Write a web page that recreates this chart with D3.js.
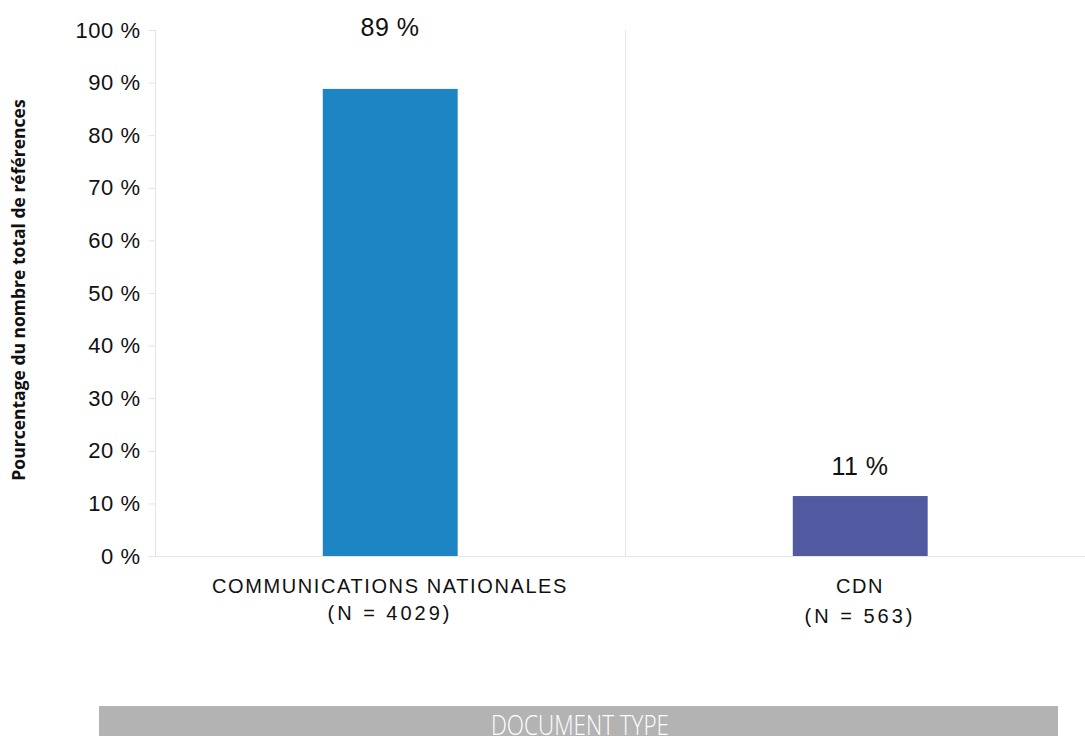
<!DOCTYPE html>
<html>
<head>
<meta charset="utf-8">
<script src="https://cdn.jsdelivr.net/npm/d3@7"></script>
<style>
  body { margin: 0; background: #fff; }
  svg { display: block; }
</style>
</head>
<body>
<div id="chart"></div>
<script>
// chart values
var categories = ["COMMUNICATIONS NATIONALES", "CDN"];
var counts = ["(N = 4029)", "(N = 563)"];
var values = [88.8, 11.4];
var labels = ["89 %", "11 %"];
var colors = ["#1e85c5", "#5159a1"];
var yTicks = [0, 10, 20, 30, 40, 50, 60, 70, 80, 90, 100];

var width = 1085, height = 736;
var margin = {top: 30, left: 155, bottom: 180};

var svg = d3.select("#chart").append("svg")
	.attr("width", width)
	.attr("height", height)
	.style("font-family", "'Liberation Sans', Arial, sans-serif");

var x = d3.scaleBand()
	.domain(categories)
	.range([margin.left, 1095]);

var y = d3.scaleLinear()
	.domain([0, 100])
	.range([556, margin.top]);

// vertical separators between categories
svg.append("g").selectAll("line")
	.data(categories)
	.enter().append("line")
	.attr("x1", function(d) { return x(d) + 0.5; })
	.attr("x2", function(d) { return x(d) + 0.5; })
	.attr("y1", y(100))
	.attr("y2", y(0))
	.style("stroke", "#e4e4e4");

// y axis
var yAxis = svg.append("g")
	.attr("transform", "translate(" + (margin.left + 0.5) + ",0)")
	.call(d3.axisLeft(y).tickValues(yTicks).tickSize(7).tickPadding(8)
		.tickFormat(function(d) { return d + " %"; }));
yAxis.select(".domain").remove();
yAxis.selectAll(".tick line").style("stroke", "#e4e4e4");
yAxis.selectAll(".tick text")
	.style("font-size", "22px")
	.style("letter-spacing", "0.5px")
	.style("fill", "#111");

// bars
svg.append("g").selectAll("rect")
	.data(values)
	.enter().append("rect")
	.attr("x", function(d, i) { return x(categories[i]) + x.bandwidth() * 0.357; })
	.attr("width", x.bandwidth() * 0.287)
	.attr("y", function(d) { return y(d); })
	.attr("height", function(d) { return y(0) - y(d); })
	.style("fill", function(d, i) { return colors[i]; });

// baseline
svg.append("line")
	.attr("x1", margin.left - 7)
	.attr("x2", width)
	.attr("y1", y(0) + 0.5)
	.attr("y2", y(0) + 0.5)
	.style("stroke", "#e4e4e4");

// value labels
svg.append("g").selectAll("text")
	.data(values)
	.enter().append("text")
	.attr("x", function(d, i) { return x(categories[i]) + x.bandwidth() / 2; })
	.attr("y", function(d) { return d > 80 ? y(100) + 6 : y(d) - 21; })
	.attr("text-anchor", "middle")
	.style("font-size", "25px")
	.style("letter-spacing", "0.5px")
	.style("fill", "#111")
	.text(function(d, i) { return labels[i]; });

// category labels
var cat = svg.append("g").selectAll("g")
	.data(categories)
	.enter().append("g")
	.attr("transform", function(d) { return "translate(" + (x(d) + x.bandwidth() / 2) + ",0)"; });
cat.append("text")
	.attr("y", 593)
	.attr("text-anchor", "middle")
	.style("font-size", "20px")
	.style("letter-spacing", "1.6px")
	.style("fill", "#111")
	.text(function(d) { return d; });
cat.append("text")
	.attr("y", function(d, i) { return i == 0 ? 620 : 623; })
	.attr("text-anchor", "middle")
	.style("font-size", "20px")
	.style("letter-spacing", "3px")
	.style("fill", "#111")
	.text(function(d, i) { return counts[i]; });

// y axis title
svg.append("text")
	.attr("transform", "translate(25,290) rotate(-90)")
	.attr("text-anchor", "middle")
	.style("font-family", "'Open Sans', sans-serif")
	.style("font-weight", "bold")
	.style("font-size", "17.5px")
	.style("fill", "#111")
	.text("Pourcentage du nombre total de références");

// grey band for x title
svg.append("rect")
	.attr("x", 99)
	.attr("y", 706)
	.attr("width", 959)
	.attr("height", 40)
	.style("fill", "#b3b3b3");
svg.append("text")
	.attr("x", 580)
	.attr("y", 735)
	.attr("text-anchor", "middle")
	.attr("textLength", 178)
	.attr("lengthAdjust", "spacingAndGlyphs")
	.style("font-family", "'Open Sans', sans-serif")
	.style("font-weight", "300")
	.style("font-size", "27px")
	.style("fill", "#fff")
	.text("DOCUMENT TYPE");
</script>
</body>
</html>
